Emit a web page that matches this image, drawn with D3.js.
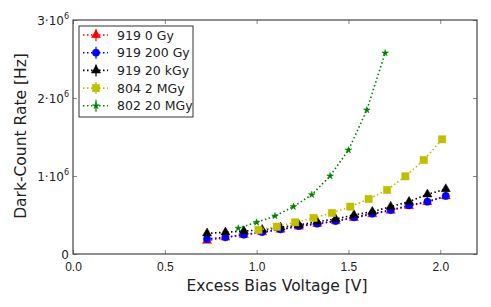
<!DOCTYPE html>
<html>
<head>
<meta charset="utf-8">
<script src="https://cdn.jsdelivr.net/npm/d3@7/dist/d3.min.js"></script>
<style>
  body { margin: 0; background: #fff; }
  svg { font-family: "DejaVu Sans", sans-serif; }
</style>
</head>
<body>
<div class="chart"></div>
<script>
(function (){

	// Data (rates in Hz)
	var voltsA = [0.73, 0.83, 0.93, 1.03, 1.13, 1.23, 1.33, 1.43, 1.53, 1.63, 1.73, 1.83, 1.93, 2.03];
	var rate0Gy = [170000, 212000, 245000, 280000, 312000, 352000, 386000, 420000, 462000, 512000, 556000, 615000, 666000, 740000];
	var rate200Gy = [192000, 214000, 248000, 282000, 316000, 359000, 389000, 423000, 470000, 517000, 564000, 624000, 671000, 744000];
	var rate20kGy = [265000, 278000, 295000, 310000, 342000, 372000, 414000, 449000, 500000, 543000, 607000, 671000, 765000, 833000];
	var voltsB = [1.01, 1.11, 1.21, 1.31, 1.41, 1.51, 1.61, 1.71, 1.81, 1.91, 2.01];
	var rate2MGy = [308000, 350000, 406000, 462000, 526000, 607000, 705000, 821000, 996000, 1205000, 1470000];
	var voltsC = [0.9, 1.0, 1.1, 1.2, 1.3, 1.4, 1.5, 1.6, 1.7];
	var rate20MGy = [330000, 406000, 487000, 607000, 760000, 1000000, 1333000, 1846000, 2577000];

	var xTicks = [0, 0.5, 1.0, 1.5, 2.0];
	var yTicks = [0, 1e6, 2e6, 3e6];

	var series = [
		{ name: "919 0 Gy", x: voltsA, y: rate0Gy, color: "#ff0000", marker: "triangle", size: 36 },
		{ name: "919 200 Gy", x: voltsA, y: rate200Gy, color: "#0000ff", marker: "circle", size: 42 },
		{ name: "919 20 kGy", x: voltsA, y: rate20kGy, color: "#000000", marker: "triangle", size: 36 },
		{ name: "804 2 MGy", x: voltsB, y: rate2MGy, color: "#bfbf00", marker: "square", size: 54 },
		{ name: "802 20 MGy", x: voltsC, y: rate20MGy, color: "#008000", marker: "star", size: 14 }
	];

	var margin = { top: 20, right: 14, bottom: 53, left: 73 };
	var width = 491 - margin.left - margin.right, height = 307 - margin.top - margin.bottom;

	var xScale = d3.scaleLinear().domain([0, 2.2]).range([0, width]);
	var yScale = d3.scaleLinear().domain([0, 3e6]).range([height, 0]);

	var svg = d3.select(".chart").append("svg")
		.attr("width", 491)
		.attr("height", 307);

	var g = svg.append("g")
		.attr("transform", "translate(" + margin.left + "," + margin.top + ")");

	function symbolFor(s) {
		var type = { triangle: d3.symbolTriangle, circle: d3.symbolCircle, square: d3.symbolSquare, star: d3.symbolStar }[s.marker];
		return d3.symbol().type(type).size(s.size)();
	}

	// Series: dotted lines plus markers
	series.forEach(function(s){
		var pts = s.x.map(function(v, i){ return [v, s.y[i]]; });
		var line = d3.line()
			.x(function(d){ return xScale(d[0]); })
			.y(function(d){ return yScale(d[1]); });
		g.append("path")
			.datum(pts)
			.attr("d", line)
			.attr("fill", "none")
			.attr("stroke", s.color)
			.attr("stroke-width", 1.6)
			.attr("stroke-dasharray", "1.5,2.5");
		g.selectAll(null)
			.data(pts)
			.enter()
			.append("path")
			.attr("d", symbolFor(s))
			.attr("transform", function(d){ return "translate(" + xScale(d[0]) + "," + yScale(d[1]) + ")"; })
			.attr("fill", s.color)
			.attr("stroke", s.color)
			.attr("stroke-width", 0.5);
	});

	// Axes with inward ticks on all four sides
	var xAxisB = d3.axisBottom(xScale).tickValues(xTicks).tickSizeInner(-4).tickSizeOuter(0).tickPadding(8)
		.tickFormat(d3.format(".1f"));
	var xAxisT = d3.axisTop(xScale).tickValues(xTicks).tickSizeInner(-4).tickSizeOuter(0).tickFormat("");
	var yAxisL = d3.axisLeft(yScale).tickValues(yTicks).tickSizeInner(-4).tickSizeOuter(0).tickFormat("");
	var yAxisR = d3.axisRight(yScale).tickValues(yTicks).tickSizeInner(-4).tickSizeOuter(0).tickFormat("");

	var xb = g.append("g").attr("transform", "translate(0," + height + ")").call(xAxisB);
	g.append("g").call(xAxisT);
	g.append("g").call(yAxisL);
	g.append("g").attr("transform", "translate(" + width + ",0)").call(yAxisR);

	g.selectAll(".domain").remove();
	g.selectAll(".tick line").attr("stroke", "#888").attr("stroke-width", 1);
	xb.selectAll("text").attr("font-size", 12).attr("fill", "#222");

	// y tick labels like 3·10^6
	yTicks.forEach(function(v){
		var t = g.append("text")
			.attr("x", -4)
			.attr("y", yScale(v) + 5)
			.attr("text-anchor", "end")
			.attr("font-size", 12)
			.attr("fill", "#222");
		if (v === 0) { t.text("0"); return; }
		t.append("tspan").text((v / 1e6) + "\u00b710");
		t.append("tspan").attr("font-size", 8).attr("dy", -6).text("6");
	});

	// frame
	g.append("rect")
		.attr("width", width)
		.attr("height", height)
		.attr("fill", "none")
		.attr("stroke", "#444")
		.attr("stroke-width", 1.2);

	// Axis labels
	svg.append("text")
		.attr("x", margin.left + width / 2 + 2)
		.attr("y", 291)
		.attr("text-anchor", "middle")
		.attr("font-size", 15.5)
		.attr("fill", "#222")
		.text("Excess Bias Voltage [V]");

	svg.append("text")
		.attr("x", 0)
		.attr("y", 0)
		.attr("text-anchor", "middle")
		.attr("transform", "translate(25.5," + (margin.top + height / 2 - 1) + ") rotate(-90)")
		.attr("font-size", 15.5)
		.attr("fill", "#222")
		.text("Dark-Count Rate [Hz]");

	// Legend
	var legend = g.append("g").attr("transform", "translate(6,6)");
	legend.append("rect")
		.attr("width", 114)
		.attr("height", 91)
		.attr("fill", "#fff")
		.attr("stroke", "#333")
		.attr("stroke-width", 1);

	series.forEach(function(s, i){
		var yy = 9 + i * 17.7;
		var row = legend.append("g").attr("transform", "translate(0," + yy + ")");
		row.append("line")
			.attr("x1", 4).attr("x2", 29)
			.attr("stroke", s.color)
			.attr("stroke-width", 1.6)
			.attr("stroke-dasharray", "1.5,2.5");
		row.append("line")
			.attr("x1", 17).attr("x2", 17).attr("y1", -6).attr("y2", 6)
			.attr("stroke", s.color)
			.attr("stroke-width", 1.2);
		row.append("path")
			.attr("d", symbolFor(s))
			.attr("transform", "translate(17,0)")
			.attr("fill", s.color)
			.attr("stroke", s.color)
			.attr("stroke-width", 0.5);
		row.append("text")
			.attr("x", 38)
			.attr("y", 4.5)
			.attr("font-size", 12.5)
			.attr("fill", "#222")
			.text(s.name);
	});

})();
</script>
</body>
</html>
